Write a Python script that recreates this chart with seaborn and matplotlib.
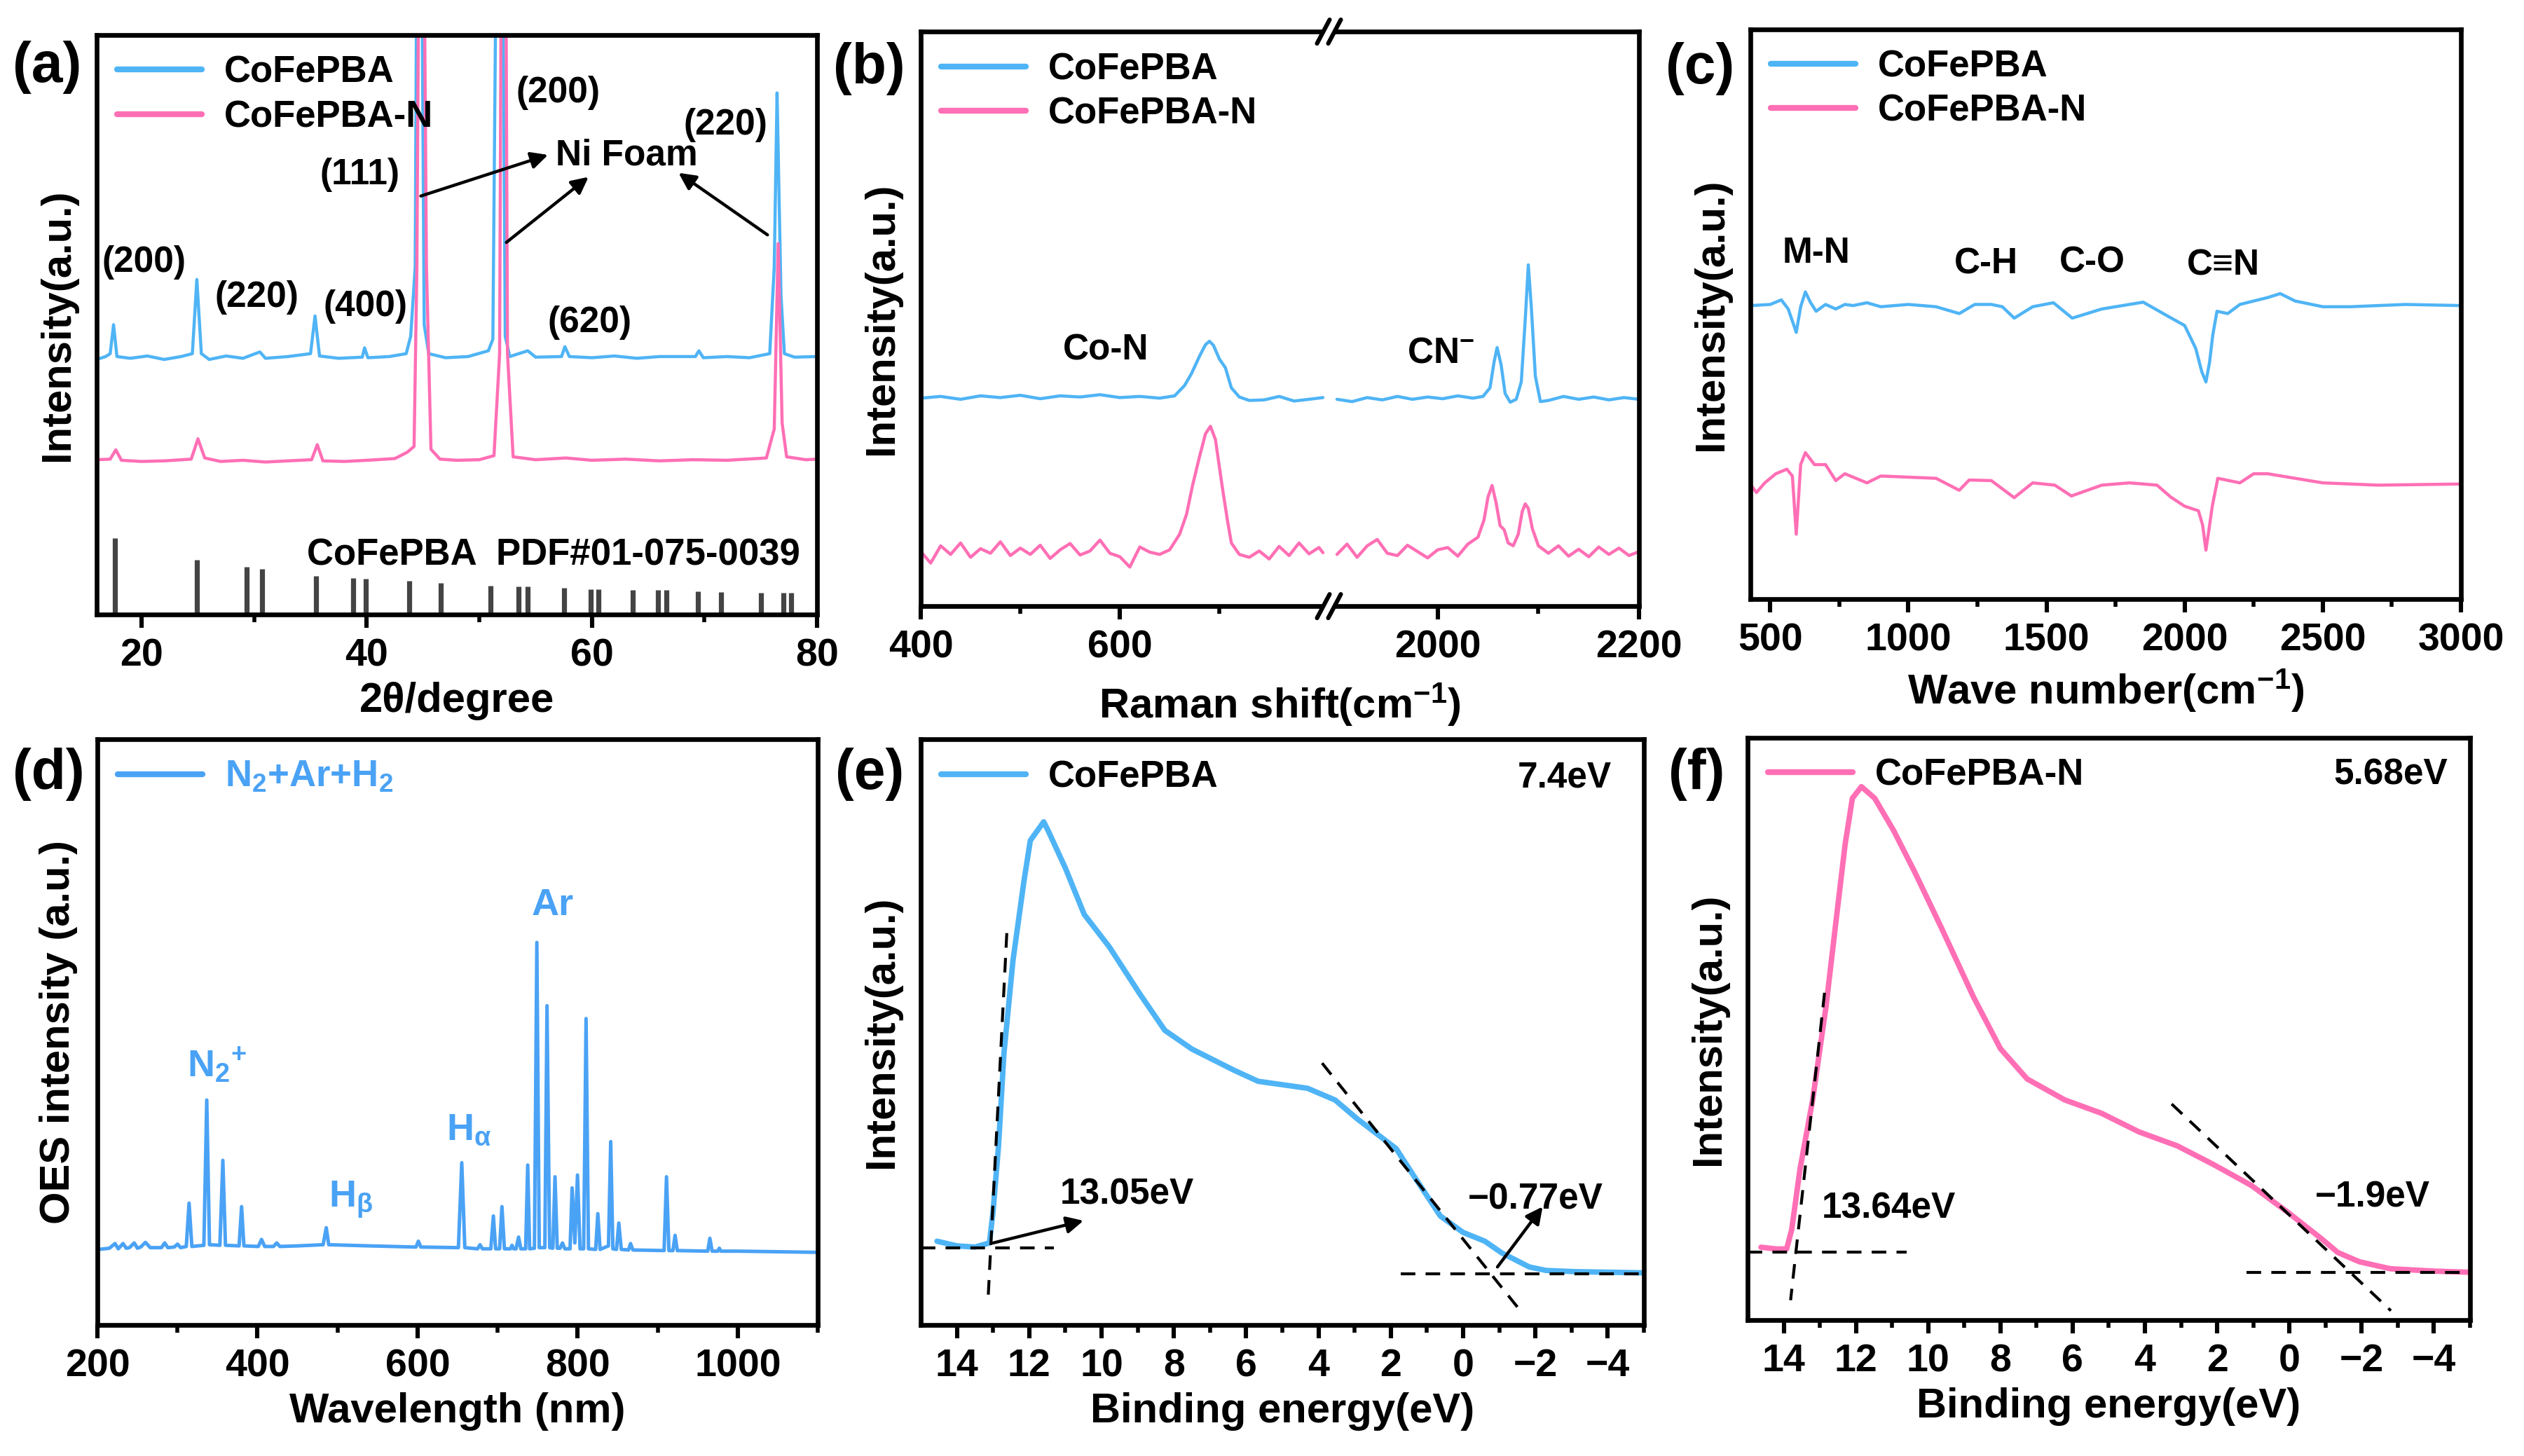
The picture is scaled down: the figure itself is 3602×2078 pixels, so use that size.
import matplotlib
matplotlib.use("Agg")
import matplotlib.pyplot as plt
from matplotlib.lines import Line2D
from matplotlib.patches import Rectangle
import seaborn as sns

# ---------------- data ----------------
# (a) XRD, arbitrary intensity units (axis 0..100, Ni foam peaks run off the top)
xrd_blue_x = [16.0, 16.8, 17.2, 17.5, 17.8, 19.0, 20.5, 22.0, 23.5, 24.5, 24.9, 25.3, 26.0, 27.5, 29.0,
              30.5, 31.0, 33.0, 35.0, 35.4, 35.8, 37.5, 39.6, 39.8, 40.1, 42.0, 43.5, 43.9, 44.3, 44.5,
              44.8, 45.1, 45.5, 47.0, 49.0, 50.8, 51.2, 51.6, 52.0, 52.3, 52.7, 54.3, 55.0, 57.3, 57.6,
              58.0, 60.0, 62.0, 64.0, 66.0, 69.2, 69.5, 69.9, 72.0, 74.0, 75.8, 76.2, 76.45, 76.6, 76.8,
              77.1, 78.0, 80.0]
xrd_blue_y = [44.0, 44.5, 45.0, 50.0, 44.5, 44.2, 44.6, 44.0, 44.5, 45.0, 57.8, 45.0, 44.0, 44.6, 44.2,
              45.3, 44.2, 44.5, 45.0, 51.5, 44.6, 44.2, 44.4, 46.0, 44.3, 44.5, 45.0, 48.0, 60.0, 140,
              140, 50.0, 45.0, 44.3, 44.5, 45.5, 47.5, 140, 140, 48.0, 44.5, 45.5, 44.4, 44.5, 46.2,
              44.5, 44.3, 44.6, 44.2, 44.5, 44.5, 45.5, 44.3, 44.5, 44.3, 45.0, 60.0, 90.0, 75.0, 55.0,
              45.0, 44.4, 44.5]
xrd_pink_x = [16.0, 17.2, 17.7, 18.2, 20.0, 22.0, 24.4, 25.0, 25.6, 27.0, 29.0, 31.0, 33.0, 35.1, 35.6,
              36.1, 38.0, 40.0, 42.5, 43.6, 44.2, 44.45, 44.7, 45.0, 45.3, 45.7, 46.5, 48.0, 50.0, 51.3,
              51.8, 52.0, 52.3, 52.5, 53.0, 55.0, 57.7, 60.0, 63.0, 66.0, 69.0, 72.0, 75.5, 76.2, 76.55,
              76.9, 77.3, 79.0, 80.0]
xrd_pink_y = [26.7, 26.8, 28.4, 26.6, 26.4, 26.5, 26.8, 30.3, 27.0, 26.4, 26.6, 26.3, 26.5, 26.7, 29.3,
              26.5, 26.4, 26.6, 26.9, 28.0, 29.0, 60.0, 140, 140, 60.0, 28.5, 26.8, 26.6, 26.7, 27.4,
              45.0, 140, 140, 45.0, 27.2, 26.7, 27.0, 26.6, 26.8, 26.5, 26.7, 26.6, 27.0, 32.0, 64.0,
              33.0, 27.2, 26.7, 26.8]
pdf_pos = [17.6, 24.9, 29.3, 30.7, 35.5, 38.8, 39.9, 43.8, 46.6, 51.0, 53.5, 54.3, 57.5, 59.9, 60.6,
           63.6, 65.9, 66.6, 69.4, 71.5, 75.0, 77.0, 77.7]
pdf_int = [13.2, 9.4, 8.2, 7.8, 6.7, 6.3, 6.2, 5.8, 5.4, 5.0, 4.8, 4.8, 4.6, 4.3, 4.3,
           4.2, 4.2, 4.2, 4.0, 3.8, 3.7, 3.7, 3.7]

# (b) Raman, split axis
ram_blue_lx = [400, 420, 440, 460, 480, 500, 520, 540, 560, 580, 600, 620, 640, 655, 665,
               672, 680, 686, 690, 694, 700, 706, 712, 720, 730, 745, 760, 775, 790, 804]
ram_blue_ly = [36.2, 36.5, 36.0, 36.6, 36.3, 36.7, 36.1, 36.6, 36.4, 36.8, 36.3, 36.5, 36.2, 36.6, 38.4,
               40.5, 43.5, 45.5, 46.1, 45.4, 43.0, 41.5, 38.0, 36.4, 35.8, 35.9, 36.5, 35.7, 36.0, 36.3]
ram_blue_rx = [1900, 1915, 1930, 1945, 1960, 1975, 1990, 2005, 2020, 2035, 2045, 2052, 2056, 2059, 2063,
               2067, 2072, 2078, 2083, 2087, 2090, 2093, 2097, 2102, 2110, 2125, 2140, 2155, 2170, 2185, 2200]
ram_blue_ry = [36.0, 35.6, 36.3, 35.9, 36.5, 36.0, 36.4, 36.1, 36.6, 36.2, 36.5, 38.0, 42.5, 45.0, 42.0,
               37.0, 35.5, 36.0, 39.0, 50.0, 59.4, 52.0, 40.0, 35.6, 35.8, 36.5, 36.0, 36.4, 35.9, 36.3, 36.0]
ram_pink_lx = [400, 410, 420, 430, 440, 450, 460, 470, 480, 490, 500, 510, 520, 530, 540, 550,
               560, 570, 580, 590, 600, 610, 620, 630, 640, 650, 660, 667, 673, 680, 686, 691,
               696, 703, 708, 712, 720, 730, 740, 750, 760, 770, 780, 790, 800, 804]
ram_pink_ly = [9.5, 7.5, 10.5, 9.0, 11.0, 8.5, 10.0, 9.2, 11.2, 8.8, 10.1, 9.0, 10.6, 8.3, 9.8, 10.9,
               8.9, 9.6, 11.5, 9.2, 8.6, 6.8, 10.3, 9.4, 9.0, 9.8, 12.5, 16.0, 21.0, 26.0, 30.0, 31.3,
               29.0, 20.6, 15.0, 11.0, 9.0, 8.5, 9.6, 8.2, 10.4, 8.8, 11.0, 9.1, 10.2, 9.3]
ram_pink_rx = [1900, 1910, 1920, 1930, 1940, 1950, 1960, 1970, 1980, 1990, 2000, 2010, 2020, 2030,
               2040, 2046, 2050, 2054, 2058, 2062, 2066, 2070, 2075, 2080, 2084, 2087, 2090, 2094,
               2100, 2110, 2120, 2130, 2140, 2150, 2160, 2170, 2180, 2190, 2200]
ram_pink_ry = [9.0, 10.8, 8.5, 10.5, 11.6, 9.2, 8.8, 10.6, 9.5, 8.4, 9.8, 10.2, 8.7, 10.8,
               12.0, 15.0, 19.0, 21.0, 18.0, 14.0, 13.3, 11.0, 10.5, 12.5, 16.5, 17.8, 17.0, 13.5,
               10.5, 9.2, 10.5, 8.7, 9.9, 8.6, 10.3, 9.0, 10.1, 8.8, 9.5]

# (c) FTIR
ir_blue_x = [430, 500, 540, 565, 594, 610, 627, 645, 666, 700, 737, 770, 800, 850, 900,
             1000, 1100, 1184, 1240, 1300, 1340, 1383, 1450, 1525, 1593, 1700, 1850, 1937, 2000, 2040,
             2062, 2077, 2090, 2102, 2117, 2156, 2200, 2300, 2346, 2400, 2500, 2600, 2800, 3000]
ir_blue_y = [51.5, 51.7, 52.5, 50.9, 46.8, 51.3, 53.9, 52.1, 50.5, 51.7, 50.9, 51.7, 51.5, 52.0, 51.3,
             51.7, 51.3, 50.1, 51.7, 51.7, 51.3, 49.3, 51.3, 52.0, 49.3, 50.9, 52.1, 49.7, 48.0, 44.0,
             39.9, 38.1, 41.5, 46.4, 50.5, 50.1, 51.7, 52.9, 53.6, 52.3, 51.3, 51.3, 51.7, 51.5]
ir_pink_x = [430, 450, 480, 520, 560, 580, 594, 610, 627, 660, 700, 737, 770, 850, 900,
             1000, 1100, 1184, 1220, 1300, 1383, 1450, 1530, 1590, 1700, 1800, 1900, 1950, 2000, 2050,
             2065, 2077, 2088, 2100, 2120, 2200, 2250, 2300, 2400, 2500, 2700, 3000]
ir_pink_y = [20.0, 18.7, 20.4, 22.0, 22.8, 21.6, 11.4, 23.6, 25.7, 23.6, 23.6, 20.8, 22.0, 20.4, 21.6,
             21.4, 21.2, 19.1, 20.9, 20.8, 17.8, 20.4, 20.0, 18.1, 20.0, 20.4, 20.0, 17.9, 16.3, 15.5,
             13.0, 8.6, 12.2, 16.3, 21.2, 20.4, 22.0, 22.0, 21.2, 20.4, 20.0, 20.2]

# (d) OES
oes_x = [202, 215, 222, 226, 232, 236, 240, 246, 250, 254, 260, 266, 280, 284, 288, 296, 300, 304,
         311, 314.5, 318, 333, 336.6, 340, 353, 356.7, 360, 377, 380.1, 383, 401, 405, 409,
         420, 424, 428, 450, 482, 485.9, 489, 540, 598, 601, 604, 651, 655.2, 659,
         675, 678, 681, 691.5, 694.7, 697.5, 702.5, 705.4, 708.5, 716, 718, 720, 723, 726.2, 729,
         735, 737.6, 740, 746, 749, 752, 759, 761.7, 765, 769, 771.7, 774.5, 778, 781, 784,
         790.5, 793.1, 796.5, 799.8, 803, 807.5, 810.5, 813.5, 822.5, 825.2, 828, 838.5, 841.3, 844,
         848.5, 851.4, 854.5, 863.5, 866.1, 869, 908, 911, 914, 919, 921.7, 924.5,
         962.5, 965.2, 968, 975, 977, 979, 1000, 1050, 1098]
oes_y = [12.9, 13.1, 13.9, 13.0, 13.9, 13.1, 13.2, 14.0, 13.1, 13.3, 14.1, 13.2, 13.2, 14.0, 13.2, 13.3, 13.8, 13.2,
         13.4, 20.8, 13.4, 13.6, 38.4, 13.7, 13.6, 28.1, 13.6, 13.5, 20.2, 13.5, 13.4, 14.6, 13.4,
         13.4, 14.0, 13.4, 13.5, 13.7, 16.6, 13.7, 13.5, 13.3, 14.3, 13.3, 13.2, 27.7, 13.2,
         13.0, 13.7, 13.0, 13.0, 18.6, 13.0, 13.0, 20.2, 13.0, 13.0, 13.6, 13.0, 13.0, 15.0, 13.0,
         13.0, 27.3, 13.0, 13.1, 65.3, 13.2, 13.2, 54.5, 13.2, 13.1, 25.3, 13.1, 13.1, 14.0, 13.0,
         13.0, 23.4, 14.0, 25.6, 13.0, 13.0, 52.3, 13.0, 12.9, 19.0, 12.9, 13.5, 31.3, 13.0,
         12.9, 17.4, 12.9, 12.8, 13.9, 12.8, 12.7, 25.3, 12.7, 12.7, 15.3, 12.7,
         12.6, 14.8, 12.6, 12.6, 13.1, 12.6, 12.6, 12.5, 12.4]

# (e) UPS CoFePBA
ups_e_x = [14.55, 14.0, 13.5, 13.1, 13.0, 12.85, 12.7, 12.45, 12.15, 11.97, 11.6, 11.47, 11.0, 10.48, 9.78,
           8.95, 8.25, 7.5, 6.34, 5.67, 4.75, 4.3, 3.54, 2.93, 1.85, 1.39, 0.63, 0.0, -0.6, -1.07,
           -1.83, -2.3, -3.1, -5.0]
ups_e_y = [14.3, 13.5, 13.3, 14.0, 19.4, 30.5, 46.3, 62.2, 75.6, 82.7, 85.9, 84.3, 78.0, 70.1, 64.5,
           56.6, 50.3, 47.1, 43.5, 41.6, 40.8, 40.4, 38.4, 35.2, 30.1, 25.7, 18.6, 15.8, 14.3, 12.3,
           9.9, 9.3, 9.1, 8.9]
tan_e_x = [[12.62, 13.14], [15.0, 11.32], [3.9, -1.51], [1.73, -5.0]]
tan_e_y = [[66.9, 4.2], [13.1, 13.1], [44.7, 3.0], [8.7, 8.7]]

# (f) UPS CoFePBA-N
ups_f_x = [14.63, 14.2, 13.92, 13.78, 13.55, 13.2, 12.83, 12.53, 12.3, 12.1, 11.85, 11.48, 10.96, 10.37, 9.63,
           8.74, 8.0, 7.26, 6.22, 5.2, 4.16, 3.1, 2.1, 1.05, 0.0, -0.9, -1.34, -1.94, -2.8, -4.0, -5.0]
ups_f_y = [12.5, 12.2, 12.2, 15.5, 25.9, 37.8, 53.8, 69.7, 81.7, 89.6, 91.6, 89.6, 84.1, 76.9, 67.3,
           55.4, 46.6, 41.4, 37.8, 35.5, 32.3, 29.9, 26.7, 23.1, 18.3, 13.9, 11.6, 10.0, 8.8, 8.4, 8.2]
tan_f_x = [[12.87, 13.81], [15.0, 10.6], [3.26, -2.81], [1.19, -5.0]]
tan_f_y = [[56.2, 3.4], [11.7, 11.7], [37.1, 1.6], [8.2, 8.2]]

BLUE = "#4FB4F5"
PINK = "#FF6FB5"
OES_BLUE = "#4AA2F5"

# ---------------- style ----------------
sns.set_style("ticks")
plt.rcParams["font.family"] = ["Liberation Sans", "DejaVu Sans"]
plt.rcParams["font.weight"] = "bold"
plt.rcParams["axes.labelweight"] = "bold"
plt.rcParams["mathtext.default"] = "regular"
plt.rcParams["axes.edgecolor"] = "black"
plt.rcParams["text.color"] = "black"
plt.rcParams["axes.labelcolor"] = "black"
plt.rcParams["xtick.color"] = "black"

TICK_FS = 20
LABEL_FS = 21.5
LEG_FS = 19
ANN_FS = 18.5

fig = plt.figure(figsize=(18.01, 10.39), dpi=200)


def style_ax(ax, xlim, major, minor, ylim=(0, 100)):
    ax.set_xlim(*xlim)
    ax.set_ylim(*ylim)
    ax.set_yticks([])
    ax.set_xticks(major)
    ax.set_xticks(minor, minor=True)
    ax.tick_params(axis="x", which="major", length=7, width=2.2, labelsize=TICK_FS, pad=5, direction="out")
    ax.tick_params(axis="x", which="minor", length=4, width=2.0, direction="out")
    for s in ax.spines.values():
        s.set_linewidth(2.4)
        s.set_color("black")
    ax.set_xlabel("")
    ax.set_ylabel("")


def legend(ax, **kw):
    leg = ax.legend(loc="upper left", frameon=False, fontsize=LEG_FS, handlelength=2.3,
                    borderaxespad=0.15, labelspacing=0.25, handletextpad=0.6, **kw)
    for line in leg.get_lines():
        line.set_linewidth(3)
    return leg


def line(ax, x, y, color, lw, label=None):
    sns.lineplot(x=x, y=y, ax=ax, color=color, linewidth=lw, sort=False, estimator=None, label=label)


arrow = dict(arrowstyle="-|>", color="black", lw=1.6, mutation_scale=18, shrinkA=0, shrinkB=0)

# ---------------- (a) XRD ----------------
ax = fig.add_axes([0.0383, 0.578, 0.2854, 0.398])
line(ax, xrd_blue_x, xrd_blue_y, BLUE, 1.6, "CoFePBA")
line(ax, xrd_pink_x, xrd_pink_y, PINK, 1.6, "CoFePBA-N")
ax.vlines(pdf_pos, 0, pdf_int, color="#444444", lw=2.6)
style_ax(ax, (16, 80), [20, 40, 60, 80], [30, 50, 70])
ax.set_xlabel("2\u03b8/degree", fontsize=LABEL_FS)
ax.set_ylabel("Intensity(a.u.)", fontsize=LABEL_FS, labelpad=10)
legend(ax)
for txt, x, y in [("(200)", 20.2, 60.7), ("(220)", 30.2, 54.7), ("(400)", 39.9, 53.1),
                  ("(111)", 39.4, 75.9), ("(200)", 57.0, 90.0), ("(220)", 71.9, 84.4),
                  ("(620)", 59.8, 50.3), ("Ni Foam", 63.1, 79.2)]:
    ax.text(x, y, txt, fontsize=ANN_FS, ha="center", va="center")
ax.text(56.6, 10.2, "CoFePBA  PDF#01-075-0039", fontsize=19, ha="center", va="center")
ax.annotate("", xy=(56.1, 79.3), xytext=(44.8, 72.2), arrowprops=arrow)
ax.annotate("", xy=(59.7, 75.5), xytext=(52.4, 64.2), arrowprops=arrow)
ax.annotate("", xy=(67.7, 76.2), xytext=(75.6, 65.5), arrowprops=arrow)

# ---------------- (b) Raman, broken axis ----------------
b_left, b_bot, b_w, b_h = 0.3648, 0.5837, 0.2846, 0.3946
w_l = b_w * 733 / 1290
axl = fig.add_axes([b_left, b_bot, w_l, b_h])
axr = fig.add_axes([b_left + w_l, b_bot, b_w - w_l, b_h])
line(axl, ram_blue_lx, ram_blue_ly, BLUE, 1.6, "CoFePBA")
line(axl, ram_pink_lx, ram_pink_ly, PINK, 1.6, "CoFePBA-N")
line(axr, ram_blue_rx, ram_blue_ry, BLUE, 1.6)
line(axr, ram_pink_rx, ram_pink_ry, PINK, 1.6)
style_ax(axl, (400, 810), [400, 600], [500, 700])
style_ax(axr, (1892, 2200), [2000, 2200], [2100])
axl.spines["right"].set_visible(False)
axr.spines["left"].set_visible(False)
axr.tick_params(axis="y", left=False)
axl.set_ylabel("Intensity(a.u.)", fontsize=LABEL_FS, labelpad=10)
fig.text(b_left + b_w / 2, 0.516, "Raman shift(cm$^{-1}$)", fontsize=LABEL_FS, ha="center", va="center")
legend(axl)
axl.text(586, 44.5, "Co-N", fontsize=ANN_FS, ha="center", va="center")
axr.text(2003, 44.0, "CN$^{-}$", fontsize=ANN_FS, ha="center", va="center")
# break marks
W, H = 3602, 2078
xj = (b_left + w_l) * W
for yj in (b_bot * H, (b_bot + b_h) * H):
    fig.add_artist(Rectangle(((xj - 8) / W, (yj - 5) / H), 16 / W, 10 / H, transform=fig.transFigure,
                             facecolor="white", edgecolor="none", zorder=10))
    for dx in (-8, 8):
        fig.add_artist(Line2D([(xj + dx - 9) / W, (xj + dx + 9) / W], [(yj - 17) / H, (yj + 17) / H],
                              transform=fig.transFigure, color="black", lw=2.2, zorder=11))

# ---------------- (c) FTIR ----------------
ax = fig.add_axes([0.6935, 0.5885, 0.2815, 0.3915])
line(ax, ir_blue_x, ir_blue_y, BLUE, 1.6, "CoFePBA")
line(ax, ir_pink_x, ir_pink_y, PINK, 1.6, "CoFePBA-N")
style_ax(ax, (428, 3000), [500, 1000, 1500, 2000, 2500, 3000], [750, 1250, 1750, 2250, 2750])
ax.set_xlabel("Wave number(cm$^{-1}$)", fontsize=LABEL_FS)
ax.set_ylabel("Intensity(a.u.)", fontsize=LABEL_FS, labelpad=10)
legend(ax)
for txt, x, y in [("M-N", 666, 60.7), ("C-H", 1281, 58.8), ("C-O", 1666, 59.0), ("C\u2261N", 2141, 58.5)]:
    ax.text(x, y, txt, fontsize=ANN_FS, ha="center", va="center")

# ---------------- (d) OES ----------------
ax = fig.add_axes([0.0386, 0.090, 0.2854, 0.4023])
line(ax, oes_x, oes_y, OES_BLUE, 1.8, "N$_2$+Ar+H$_2$")
style_ax(ax, (200, 1100), [200, 400, 600, 800, 1000], [300, 500, 700, 900, 1100])
ax.set_xlabel("Wavelength (nm)", fontsize=LABEL_FS)
ax.set_ylabel("OES intensity (a.u.)", fontsize=LABEL_FS, labelpad=10)
legend(ax, labelcolor="linecolor")
for txt, x, y in [("N$_2$$^{+}$", 349, 44.3), ("H$_\u03b2$", 517, 21.4), ("H$_\u03b1$", 664, 33.3), ("Ar", 769, 71.7)]:
    ax.text(x, y, txt, fontsize=ANN_FS + 1, ha="center", va="center", color=OES_BLUE)

# ---------------- (e) UPS ----------------
ax = fig.add_axes([0.3648, 0.090, 0.2865, 0.4023])
line(ax, ups_e_x, ups_e_y, BLUE, 2.8, "CoFePBA")
for tx, ty in zip(tan_e_x, tan_e_y):
    ax.plot(tx, ty, color="black", lw=1.5, ls=(0, (5, 3.5)))
style_ax(ax, (15, -5), list(range(14, -5, -2)), list(range(13, -6, -2)))
ax.set_xlabel("Binding energy(eV)", fontsize=LABEL_FS)
ax.set_ylabel("Intensity(a.u.)", fontsize=LABEL_FS, labelpad=10)
legend(ax)
ax.text(-2.8, 93.4, "7.4eV", fontsize=ANN_FS, ha="center", va="center")
ax.text(9.3, 22.2, "13.05eV", fontsize=ANN_FS, ha="center", va="center")
ax.text(-2.0, 21.4, "\u22120.77eV", fontsize=ANN_FS, ha="center", va="center")
ax.annotate("", xy=(10.5, 17.8), xytext=(13.0, 14.0), arrowprops=arrow)
ax.annotate("", xy=(-2.2, 20.2), xytext=(-0.95, 9.9), arrowprops=arrow)

# ---------------- (f) UPS ----------------
ax = fig.add_axes([0.6924, 0.0934, 0.2862, 0.3999])
line(ax, ups_f_x, ups_f_y, PINK, 2.8, "CoFePBA-N")
for tx, ty in zip(tan_f_x, tan_f_y):
    ax.plot(tx, ty, color="black", lw=1.5, ls=(0, (5, 3.5)))
style_ax(ax, (15, -5), list(range(14, -5, -2)), list(range(13, -6, -2)))
ax.set_xlabel("Binding energy(eV)", fontsize=LABEL_FS)
ax.set_ylabel("Intensity(a.u.)", fontsize=LABEL_FS, labelpad=10)
legend(ax)
ax.text(-2.8, 93.6, "5.68eV", fontsize=ANN_FS, ha="center", va="center")
ax.text(11.1, 19.1, "13.64eV", fontsize=ANN_FS, ha="center", va="center")
ax.text(-2.3, 21.1, "\u22121.9eV", fontsize=ANN_FS, ha="center", va="center")

# panel letters
for lab, x, y in [("(a)", 0.005, 0.954), ("(b)", 0.330, 0.953), ("(c)", 0.660, 0.953),
                  ("(d)", 0.005, 0.468), ("(e)", 0.331, 0.468), ("(f)", 0.661, 0.468)]:
    fig.text(x, y, lab, fontsize=29, ha="left", va="center")

fig.savefig("out.png", dpi=200)
